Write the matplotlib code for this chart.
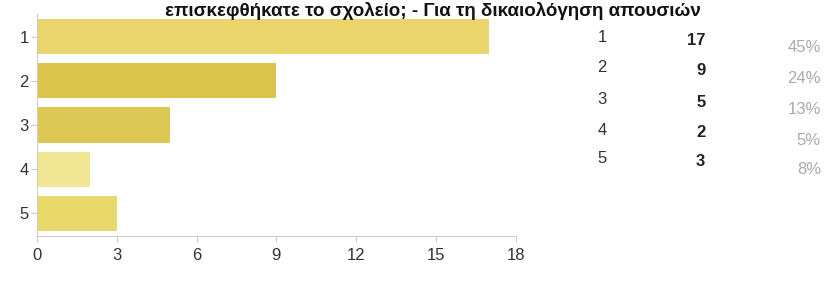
import matplotlib.pyplot as plt

plt.rcParams['font.family'] = ['Liberation Sans', 'DejaVu Sans']

categories = ['1', '2', '3', '4', '5']
counts = [17, 9, 5, 2, 3]
percents = ['45%', '24%', '13%', '5%', '8%']
x_ticks = [0, 3, 6, 9, 12, 15, 18]
title = 'επισκεφθήκατε το σχολείο; - Για τη δικαιολόγηση απουσιών'

bar_colors = ['#e9d56c', '#dbc44c', '#dec855', '#f1e693', '#e9d86a']

fig = plt.figure(figsize=(8.25, 2.89), dpi=100)
ax = fig.add_axes([0.045, 0.185, 0.58, 0.765])

ax.barh(categories, counts, height=0.8, color=bar_colors)
ax.set_xlim(0, 18)
ax.set_ylim(4.5, -0.5)
ax.set_xticks(x_ticks)
ax.tick_params(axis='x', length=4, color='#cccccc', labelsize=12, labelcolor='#333333', pad=5)
ax.tick_params(axis='y', length=4, color='#cccccc', labelsize=12, labelcolor='#333333', pad=2)
for side in ['top', 'right']:
    ax.spines[side].set_visible(False)
for side in ['left', 'bottom']:
    ax.spines[side].set_color('#cccccc')

# titre en haut
fig.text(0.85, 0.962, title, ha='right', va='center', fontsize=13.5,
         fontweight='bold', color='#111111')

# tableau à droite
row_y = [0.87, 0.765, 0.655, 0.55, 0.45]
for i, cat in enumerate(categories):
    fig.text(0.73, row_y[i], cat, ha='center', va='center', fontsize=12, color='#333333')
    fig.text(0.855, row_y[i] - 0.01, str(counts[i]), ha='right', va='center', fontsize=12,
             fontweight='bold', color='#222222')
    fig.text(0.995, row_y[i] - 0.035, percents[i], ha='right', va='center', fontsize=12,
             color='#aaaaaa')

fig.savefig('out.png', dpi=100)
